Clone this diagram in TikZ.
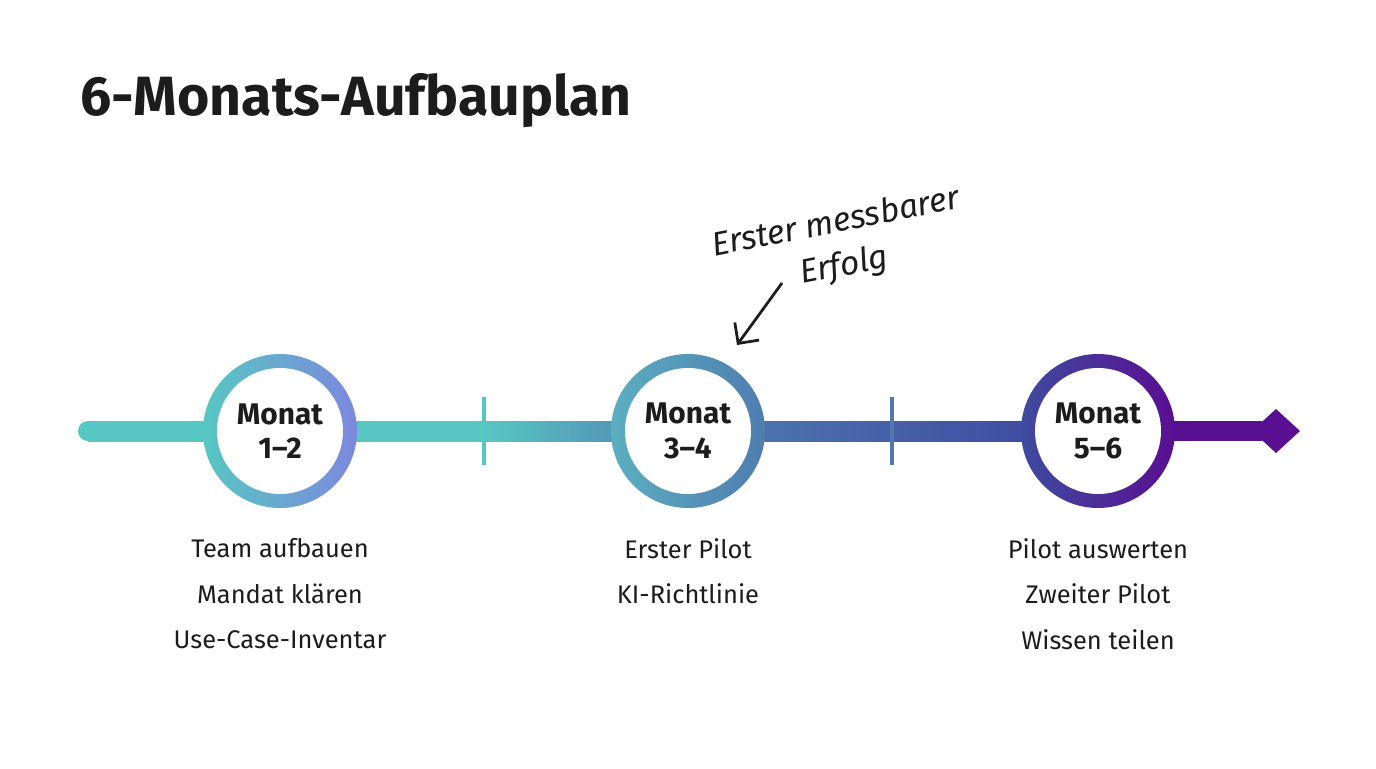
\documentclass[tikz,border=0pt]{standalone}
\usepackage{fontspec}
\setmainfont{Fira Sans}
\usetikzlibrary{positioning,arrows.meta}
\definecolor{tealA}{HTML}{57C7C3}
\definecolor{periA}{HTML}{7C88DE}
\definecolor{tealB}{HTML}{5BAFC0}
\definecolor{blueB}{HTML}{4F7DB0}
\definecolor{blueC}{HTML}{3F4BA0}
\definecolor{purpC}{HTML}{5A0E91}
\definecolor{inkdark}{HTML}{1C1C1C}
\begin{document}
\begin{tikzpicture}
  [
    x = 0.02cm, y = -0.02cm,
    stage/.style = {circle, fill=white, minimum size=2.52cm, inner sep=0pt,
                    align=center, font=\fontsize{17}{19.5}\selectfont\bfseries,
                    text=inkdark},
    task/.style  = {align=center, font=\fontsize{14.5}{26}\selectfont,
                    text=inkdark},
    tick/.style  = {line width=0.07cm}
    ]
  \useasboundingbox (0,0) rectangle (1376,768);
  \node [anchor=west, font=\fontsize{31.5}{36}\selectfont\bfseries, text=inkdark]
    (title) at (74,101) {6-Monats-Aufbauplan};
  % timeline bar
  \fill [tealA] (88,431) circle (10);
  \shade [left color=tealA, right color=tealA] (88,421) rectangle (484,441);
  \shade [left color=tealA, right color=blueB] (484,421) rectangle (688,441);
  \shade [left color=blueB, right color=blueC] (688,421) rectangle (1040,441);
  \fill [purpC] (1098,421) rectangle (1262,441);
  \fill [purpC] (1252,431) -- (1276,409) -- (1300,431) -- (1276,453) -- cycle;
  \draw [tick, tealA] (484,397) -- (484,465);
  \draw [tick, blueB!90!blueC] (892,397) -- (892,465);
  % rings
  \shade [left color=tealA, right color=periA] (280,431) circle (77);
  \shade [left color=tealB, right color=blueB] (688,431) circle (77);
  \shade [left color=blueC, right color=purpC] (1098,431) circle (77);
  \node [stage] (m12) at (280,431) {Monat\\1--2};
  \node [stage] (m34) at (688,431) {Monat\\3--4};
  \node [stage] (m56) at (1098,431) {Monat\\5--6};
  % tasks
  \node [task, anchor=north] (t12) at (280,532)
    {Team aufbauen\\Mandat klären\\Use-Case-Inventar};
  \node [task, anchor=north] (t34) at (688,532) {Erster Pilot\\KI-Richtlinie};
  \node [task, anchor=north] (t56) at (1098,532)
    {Pilot auswerten\\Zweiter Pilot\\Wissen teilen};
  % note
  \node [rotate=11, align=center, font=\fontsize{19}{25}\selectfont\itshape,
         text=inkdark] (note) at (840,245) {Erster messbarer\\Erfolg};
  \coordinate (hit) at (737,345);
  \draw [-{Straight Barb[length=3mm]}, line width=0.055cm, inkdark]
    (782,283) -- (hit);
\end{tikzpicture}
\end{document}
